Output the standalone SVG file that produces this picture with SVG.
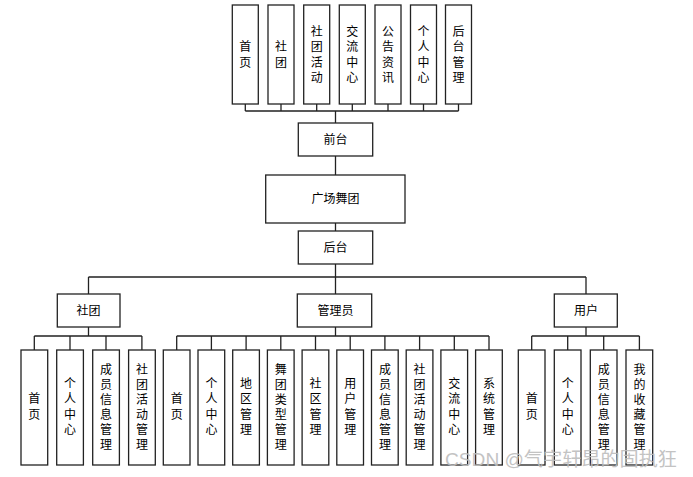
<svg xmlns="http://www.w3.org/2000/svg" width="693" height="477" viewBox="0 0 693 477">
<style>
.b{fill:#fff;stroke:#222;stroke-width:1.3}
.t{font-family:"Liberation Sans","Noto Sans CJK SC",sans-serif;font-size:12px;fill:#000;text-anchor:middle;dominant-baseline:central}
.c{fill:none;stroke:#222;stroke-width:1.3}
.w{font-family:"Liberation Sans","Noto Sans CJK SC",sans-serif;font-size:19px;fill:#bdbdbd;opacity:0.9}
</style>
<rect width="693" height="477" fill="#fff"/>
<g id="connectors">
<path class="c" d="M245.3 104V111M281 104V111M316.7 104V111M352.3 104V111M388 104V111M423.5 104V111M458.5 104V111M245.3 111H458.5M335.5 111V123"/>
<path class="c" d="M335.5 156V175M335.5 223V231M335.5 264V277M88.5 277H586M88.5 277V294M335.5 277V294M586 277V294"/>
<path class="c" d="M88.5 327V336M34.3 336H141.9M34.3 336V350M70 336V350M106 336V350M141.9 336V350"/>
<path class="c" d="M335.5 327V336M176.7 336H489M176.7 336V350M211.4 336V350M246.1 336V350M280.8 336V350M315.5 336V350M350.2 336V350M384.9 336V350M419.6 336V350M454.3 336V350M489 336V350"/>
<path class="c" d="M586 327V336M531.7 336H639.4M531.7 336V350M567.7 336V350M603.7 336V350M639.4 336V350"/>
</g>
<g id="top1"><rect class="b" x="232.3" y="5" width="26" height="99"/><text class="t" x="245.3"><tspan x="245.3" y="47">首</tspan><tspan x="245.3" y="62.5">页</tspan></text></g>
<g id="top2"><rect class="b" x="268" y="5" width="26" height="99"/><text class="t"><tspan x="281" y="47">社</tspan><tspan x="281" y="62.5">团</tspan></text></g>
<g id="top3"><rect class="b" x="303.7" y="5" width="26" height="99"/><text class="t"><tspan x="316.7" y="31.5">社</tspan><tspan x="316.7" y="47">团</tspan><tspan x="316.7" y="62.5">活</tspan><tspan x="316.7" y="78">动</tspan></text></g>
<g id="top4"><rect class="b" x="339.3" y="5" width="26" height="99"/><text class="t"><tspan x="352.3" y="31.5">交</tspan><tspan x="352.3" y="47">流</tspan><tspan x="352.3" y="62.5">中</tspan><tspan x="352.3" y="78">心</tspan></text></g>
<g id="top5"><rect class="b" x="375" y="5" width="26" height="99"/><text class="t"><tspan x="388" y="31.5">公</tspan><tspan x="388" y="47">告</tspan><tspan x="388" y="62.5">资</tspan><tspan x="388" y="78">讯</tspan></text></g>
<g id="top6"><rect class="b" x="410.5" y="5" width="26" height="99"/><text class="t"><tspan x="423.5" y="31.5">个</tspan><tspan x="423.5" y="47">人</tspan><tspan x="423.5" y="62.5">中</tspan><tspan x="423.5" y="78">心</tspan></text></g>
<g id="top7"><rect class="b" x="445.5" y="5" width="26" height="99"/><text class="t"><tspan x="458.5" y="31.5">后</tspan><tspan x="458.5" y="47">台</tspan><tspan x="458.5" y="62.5">管</tspan><tspan x="458.5" y="78">理</tspan></text></g>
<g id="qiantai"><rect class="b" x="298.3" y="123" width="74.4" height="33"/><text class="t" x="335.5" y="139.5">前台</text></g>
<g id="root"><rect class="b" x="265.7" y="175" width="139.3" height="48"/><text class="t" x="335.5" y="199">广场舞团</text></g>
<g id="houtai"><rect class="b" x="298.3" y="231" width="74.4" height="33"/><text class="t" x="335.5" y="247.5">后台</text></g>
<g id="shetuan"><rect class="b" x="57.3" y="294" width="62.7" height="33"/><text class="t" x="88.5" y="310.5">社团</text></g>
<g id="admin"><rect class="b" x="297.3" y="294" width="74.4" height="33"/><text class="t" x="335.5" y="310.5">管理员</text></g>
<g id="user"><rect class="b" x="554.3" y="294" width="63" height="33"/><text class="t" x="586" y="310.5">用户</text></g>
<g id="s1"><rect class="b" x="21" y="350" width="26.7" height="115"/><text class="t"><tspan x="34.3" y="399">首</tspan><tspan x="34.3" y="414.5">页</tspan></text></g>
<g id="s2"><rect class="b" x="56.7" y="350" width="26.7" height="115"/><text class="t"><tspan x="70" y="384">个</tspan><tspan x="70" y="399">人</tspan><tspan x="70" y="414.5">中</tspan><tspan x="70" y="430">心</tspan></text></g>
<g id="s3"><rect class="b" x="92.7" y="350" width="26.7" height="115"/><text class="t"><tspan x="106" y="370">成</tspan><tspan x="106" y="385">员</tspan><tspan x="106" y="400">信</tspan><tspan x="106" y="415">息</tspan><tspan x="106" y="430">管</tspan><tspan x="106" y="445">理</tspan></text></g>
<g id="s4"><rect class="b" x="128.6" y="350" width="26.7" height="115"/><text class="t"><tspan x="141.9" y="370">社</tspan><tspan x="141.9" y="385">团</tspan><tspan x="141.9" y="400">活</tspan><tspan x="141.9" y="415">动</tspan><tspan x="141.9" y="430">管</tspan><tspan x="141.9" y="445">理</tspan></text></g>
<g id="a1"><rect class="b" x="163.3" y="350" width="26.7" height="115"/><text class="t"><tspan x="176.7" y="399">首</tspan><tspan x="176.7" y="414.5">页</tspan></text></g>
<g id="a2"><rect class="b" x="198" y="350" width="26.7" height="115"/><text class="t"><tspan x="211.4" y="384">个</tspan><tspan x="211.4" y="399">人</tspan><tspan x="211.4" y="414.5">中</tspan><tspan x="211.4" y="430">心</tspan></text></g>
<g id="a3"><rect class="b" x="232.7" y="350" width="26.7" height="115"/><text class="t"><tspan x="246.1" y="384">地</tspan><tspan x="246.1" y="399">区</tspan><tspan x="246.1" y="414.5">管</tspan><tspan x="246.1" y="430">理</tspan></text></g>
<g id="a4"><rect class="b" x="267.4" y="350" width="26.7" height="115"/><text class="t"><tspan x="280.8" y="370">舞</tspan><tspan x="280.8" y="385">团</tspan><tspan x="280.8" y="400">类</tspan><tspan x="280.8" y="415">型</tspan><tspan x="280.8" y="430">管</tspan><tspan x="280.8" y="445">理</tspan></text></g>
<g id="a5"><rect class="b" x="302.1" y="350" width="26.7" height="115"/><text class="t"><tspan x="315.5" y="384">社</tspan><tspan x="315.5" y="399">区</tspan><tspan x="315.5" y="414.5">管</tspan><tspan x="315.5" y="430">理</tspan></text></g>
<g id="a6"><rect class="b" x="336.8" y="350" width="26.7" height="115"/><text class="t"><tspan x="350.2" y="384">用</tspan><tspan x="350.2" y="399">户</tspan><tspan x="350.2" y="414.5">管</tspan><tspan x="350.2" y="430">理</tspan></text></g>
<g id="a7"><rect class="b" x="371.5" y="350" width="26.7" height="115"/><text class="t"><tspan x="384.9" y="370">成</tspan><tspan x="384.9" y="385">员</tspan><tspan x="384.9" y="400">信</tspan><tspan x="384.9" y="415">息</tspan><tspan x="384.9" y="430">管</tspan><tspan x="384.9" y="445">理</tspan></text></g>
<g id="a8"><rect class="b" x="406.2" y="350" width="26.7" height="115"/><text class="t"><tspan x="419.6" y="370">社</tspan><tspan x="419.6" y="385">团</tspan><tspan x="419.6" y="400">活</tspan><tspan x="419.6" y="415">动</tspan><tspan x="419.6" y="430">管</tspan><tspan x="419.6" y="445">理</tspan></text></g>
<g id="a9"><rect class="b" x="440.9" y="350" width="26.7" height="115"/><text class="t"><tspan x="454.3" y="384">交</tspan><tspan x="454.3" y="399">流</tspan><tspan x="454.3" y="414.5">中</tspan><tspan x="454.3" y="430">心</tspan></text></g>
<g id="a10"><rect class="b" x="475.6" y="350" width="26.7" height="115"/><text class="t"><tspan x="489" y="384">系</tspan><tspan x="489" y="399">统</tspan><tspan x="489" y="414.5">管</tspan><tspan x="489" y="430">理</tspan></text></g>
<g id="u1"><rect class="b" x="518.3" y="350" width="26.7" height="115"/><text class="t"><tspan x="531.7" y="399">首</tspan><tspan x="531.7" y="414.5">页</tspan></text></g>
<g id="u2"><rect class="b" x="554.3" y="350" width="26.7" height="115"/><text class="t"><tspan x="567.7" y="384">个</tspan><tspan x="567.7" y="399">人</tspan><tspan x="567.7" y="414.5">中</tspan><tspan x="567.7" y="430">心</tspan></text></g>
<g id="u3"><rect class="b" x="590.3" y="350" width="26.7" height="115"/><text class="t"><tspan x="603.7" y="370">成</tspan><tspan x="603.7" y="385">员</tspan><tspan x="603.7" y="400">信</tspan><tspan x="603.7" y="415">息</tspan><tspan x="603.7" y="430">管</tspan><tspan x="603.7" y="445">理</tspan></text></g>
<g id="u4"><rect class="b" x="626" y="350" width="26.7" height="115"/><text class="t"><tspan x="639.4" y="370">我</tspan><tspan x="639.4" y="385">的</tspan><tspan x="639.4" y="400">收</tspan><tspan x="639.4" y="415">藏</tspan><tspan x="639.4" y="430">管</tspan><tspan x="639.4" y="445">理</tspan></text></g>
<text class="w" x="445" y="465.5" textLength="232" lengthAdjust="spacingAndGlyphs">CSDN @气宇轩昂的固执狂</text>
</svg>
